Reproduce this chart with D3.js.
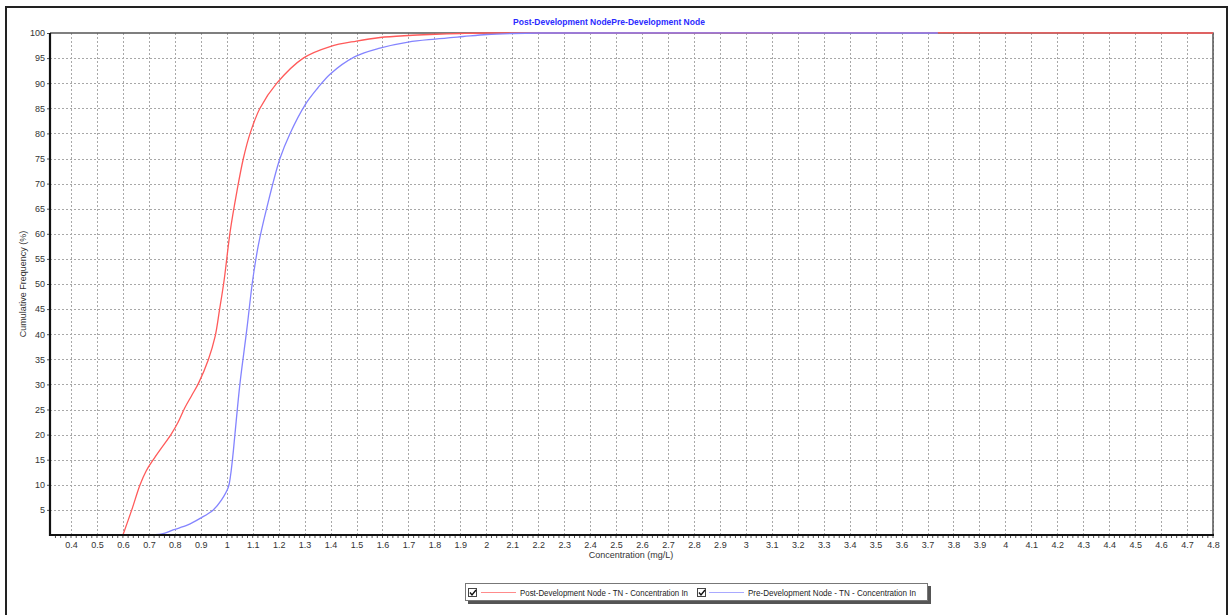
<!DOCTYPE html>
<html><head><meta charset="utf-8">
<script src="https://cdn.jsdelivr.net/npm/d3@7"></script>
<style>
body{margin:0;background:#fff;}
svg{display:block;font-family:"Liberation Sans",Arial,sans-serif;}
</style></head>
<body>
<svg id="chart" width="1229" height="615"></svg>
<script>
const chartTitle = "Post-Development NodePre-Development Node";
const xLabel = "Concentration (mg/L)";
const yLabel = "Cumulative Frequency (%)";
const seriesNames = ["Post-Development Node - TN - Concentration In", "Pre-Development Node - TN - Concentration In"];
const xTicks = d3.range(4, 49).map(d => d / 10);
const yTicks = d3.range(1, 21).map(d => d * 5);

const postX = [0.6, 0.634, 0.666, 0.69, 0.717, 0.748, 0.785, 0.812, 0.838, 0.865, 0.891, 0.929, 0.955, 0.972, 0.99, 1.013, 1.039, 1.064, 1.09, 1.128, 1.193, 1.295, 1.398, 1.5, 1.591, 1.7, 1.783, 1.9, 2.0, 4.8];
const postY = [0, 5, 10, 12.8, 15, 17.3, 20, 22.4, 25.3, 27.8, 30.2, 34.9, 39.5, 44.8, 50.8, 60.4, 68.4, 75, 80, 85, 90, 95, 97.3, 98.4, 99.1, 99.5, 99.7, 99.9, 100, 100];
const preX = [0.69, 0.75, 0.793, 0.85, 0.897, 0.948, 0.98, 1.006, 1.015, 1.024, 1.032, 1.051, 1.077, 1.1, 1.122, 1.154, 1.205, 1.244, 1.302, 1.35, 1.398, 1.494, 1.59, 1.699, 1.803, 1.911, 2.003, 2.1, 2.2, 3.74];
const preY = [0, 0.2, 1, 2, 3.3, 5, 7, 9.5, 12, 16, 20.3, 30.2, 40.8, 50.8, 57.8, 65.1, 75, 80, 85.7, 89, 91.8, 95.3, 97, 98.2, 98.8, 99.3, 99.7, 99.9, 100, 100];
const colors = ["#ff5a5a", "#8484ff"];

const svg = d3.select("#chart");
const L = 50, R = 1213, T = 33, B = 535;
const x = d3.scaleLinear().domain([0.319, 4.8]).range([L, R]);
const y = d3.scaleLinear().domain([0, 100]).range([B, T]);

// outer frame
svg.append("rect").attr("x", 6).attr("y", 7).attr("width", 1221).attr("height", 620)
  .attr("fill", "none").attr("stroke", "#222").attr("stroke-width", 2);

// grid
const grid = svg.append("g").attr("stroke", "#a8a8a8").attr("stroke-width", 1).attr("stroke-dasharray", "2,2");
grid.selectAll("line.v").data(xTicks).join("line")
  .attr("x1", d => Math.round(x(d)) + 0.5).attr("x2", d => Math.round(x(d)) + 0.5)
  .attr("y1", T).attr("y2", B);
grid.selectAll("line.h").data(yTicks.filter(d => d < 100)).join("line")
  .attr("y1", d => Math.round(y(d)) + 0.5).attr("y2", d => Math.round(y(d)) + 0.5)
  .attr("x1", L).attr("x2", R);

// top & right border
svg.append("path").attr("d", `M${L},${T}H${R}V${B}`).attr("fill", "none")
  .attr("stroke", "#555").attr("stroke-width", 1.5);

// x axis
const xAxis = d3.axisBottom(x).tickValues(xTicks).tickSize(0).tickPadding(7).tickFormat(d3.format("~g"));
const gx = svg.append("g").attr("transform", `translate(0,${B})`).call(xAxis);
gx.select(".domain").remove();
gx.selectAll("text").attr("font-size", 9).attr("fill", "#333").attr("font-family", "Liberation Sans, Arial, sans-serif");
const minor = d3.range(17, 241).map(d => d / 50).filter(d => d >= 0.32 && d <= 4.8);
svg.append("g").selectAll("line").data(minor).join("line")
  .attr("x1", d => x(d)).attr("x2", d => x(d)).attr("y1", B).attr("y2", B + 3)
  .attr("stroke", "#555").attr("stroke-width", 1);

// y axis
const yAxis = d3.axisLeft(y).tickValues(yTicks).tickSize(3).tickPadding(2);
const gy = svg.append("g").attr("transform", `translate(${L},0)`).call(yAxis);
gy.select(".domain").remove();
gy.selectAll("line").attr("stroke", "#555");
gy.selectAll("text").attr("font-size", 9).attr("fill", "#333").attr("font-family", "Liberation Sans, Arial, sans-serif");

// series
const line = d3.line().x(d => x(d[0])).y(d => y(d[1])).curve(d3.curveCatmullRom.alpha(0.5));
const postData = postX.map((v, i) => [v, postY[i]]);
const preData = preX.map((v, i) => [v, preY[i]]);
svg.append("path").datum(postData).attr("d", line).attr("fill", "none").attr("stroke", colors[0]).attr("stroke-width", 1.3);
svg.append("path").datum(preData).attr("d", line).attr("fill", "none").attr("stroke", colors[1]).attr("stroke-width", 1.3);

// axis lines (left & bottom thick)
svg.append("path").attr("d", `M${L},${T}V${B}H${R + 1}`).attr("fill", "none")
  .attr("stroke", "#111").attr("stroke-width", 2.2);

// title
svg.append("text").attr("x", 609).attr("y", 25).attr("text-anchor", "middle")
  .attr("font-size", 8.5).attr("font-weight", "bold").attr("fill", "#2b2bff").text(chartTitle);

// axis labels
svg.append("text").attr("x", 631).attr("y", 558).attr("text-anchor", "middle")
  .attr("font-size", 9).attr("fill", "#333").text(xLabel);
svg.append("text").attr("transform", "translate(26,284) rotate(-90)").attr("text-anchor", "middle")
  .attr("font-size", 9).attr("fill", "#333").text(yLabel);

// legend
const lg = svg.append("g");
lg.append("rect").attr("x", 468).attr("y", 586).attr("width", 463).attr("height", 18).attr("fill", "#555");
lg.append("rect").attr("x", 465.5).attr("y", 583.5).attr("width", 462).attr("height", 17).attr("fill", "#fff").attr("stroke", "#777").attr("stroke-width", 1);
const items = [{x: 468, lx: 481, tx: 520}, {x: 697, lx: 709, tx: 748}];
items.forEach((it, i) => {
  lg.append("rect").attr("x", it.x + 0.5).attr("y", 588.5).attr("width", 8).attr("height", 8).attr("fill", "#fff").attr("stroke", "#444");
  lg.append("path").attr("d", `M${it.x + 2},${592.5} l2,2.5 l4,-5`).attr("fill", "none").attr("stroke", "#111").attr("stroke-width", 1.4);
  lg.append("line").attr("x1", it.lx).attr("x2", it.lx + 35).attr("y1", 592.5).attr("y2", 592.5)
    .attr("stroke", colors[i]).attr("stroke-opacity", 0.7).attr("stroke-width", 1);
  lg.append("text").attr("x", it.tx).attr("y", 595.5).attr("font-size", 8.3).attr("fill", "#222")
    .attr("textLength", 168).attr("lengthAdjust", "spacingAndGlyphs").text(seriesNames[i]);
});
</script>
</body></html>
